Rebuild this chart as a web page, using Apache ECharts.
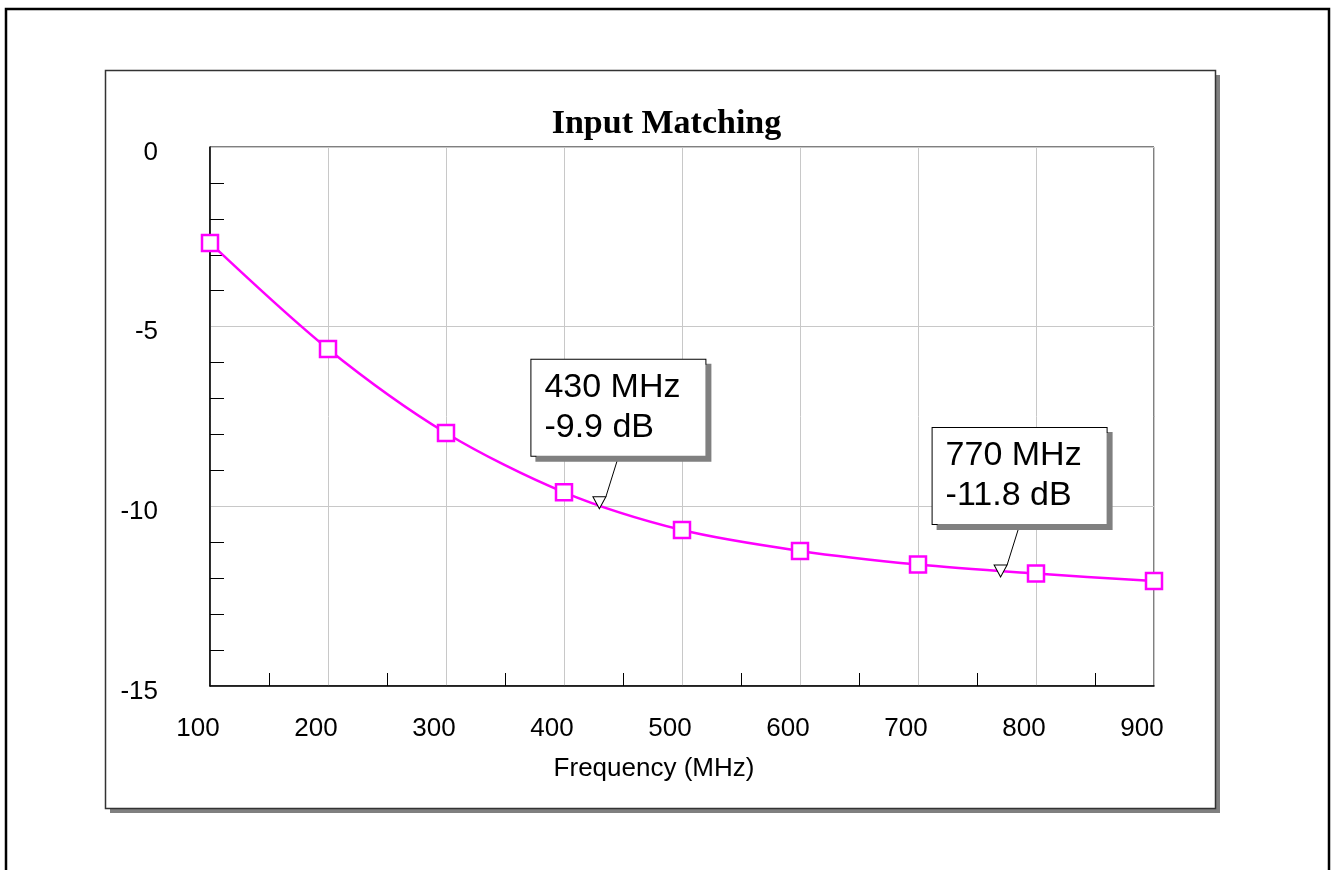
<!DOCTYPE html>
<html>
<head>
<meta charset="utf-8">
<script src="https://cdn.jsdelivr.net/npm/echarts@6/dist/echarts.min.js"></script>
<style>
html,body{margin:0;padding:0;background:#fff;}
#chart{width:1333px;height:870px;}
</style>
</head>
<body>
<div id="chart"></div>
<script>
// ---- data ----
const freqMHz = [100, 200, 300, 400, 500, 600, 700, 800, 900];
const s11dB = [-2.67, -5.62, -7.96, -9.61, -10.66, -11.24, -11.62, -11.87, -12.08];
const markerFreq = [430, 770];
const markerDB = [-9.9, -11.8];
const markerText = ['430 MHz\n-9.9 dB', '770 MHz\n-11.8 dB'];
const xMinorTicks = [150, 250, 350, 450, 550, 650, 750, 850];
const yMinorTicks = [-14, -13, -12, -11, -9, -8, -7, -6, -4, -3, -2, -1];
const titleText = 'Input Matching';
const xAxisName = 'Frequency (MHz)';

const FONT = "'Liberation Sans', Arial, sans-serif";
const chart = echarts.init(document.getElementById('chart'), null, {renderer: 'canvas'});

const option = {
  animation: false,
  backgroundColor: '#fff',
  title: {
    text: titleText,
    left: 'center',
    top: 102,
    textStyle: {fontFamily: "'Liberation Serif', 'Times New Roman', serif", fontWeight: 'bold', fontSize: 34, color: '#000'}
  },
  graphic: [
    {type: 'rect', z: -10, shape: {x: 6, y: 9, width: 1323, height: 900}, style: {fill: '#fff', stroke: '#000', lineWidth: 2.5}},
    {type: 'rect', z: -9, shape: {x: 110, y: 75, width: 1110, height: 738}, style: {fill: '#808080'}},
    {type: 'rect', z: -8, shape: {x: 105.5, y: 70.5, width: 1110, height: 738}, style: {fill: '#fff', stroke: '#333', lineWidth: 1.5}}
  ],
  grid: {
    left: 210, top: 147, width: 944, height: 539,
    show: true, borderColor: '#000', borderWidth: 1, backgroundColor: 'transparent'
  },
  xAxis: [
    {
      type: 'value', min: 100, max: 900, interval: 100,
      name: xAxisName, nameLocation: 'middle', nameGap: 70,
      nameTextStyle: {fontFamily: FONT, fontSize: 26, color: '#000', padding: [0, 56, 0, 0]},
      axisLine: {show: true, onZero: false, lineStyle: {color: '#000', width: 1.5}},
      axisTick: {show: false},
      axisLabel: {fontFamily: FONT, fontSize: 26, color: '#000', margin: 30, padding: [0, 24, 0, 0]},
      splitLine: {show: true, lineStyle: {color: '#c8c8c8', width: 1}}
    },
    {
      type: 'value', min: 100, max: 900, position: 'bottom',
      axisLine: {show: false, onZero: false},
      axisTick: {show: true, inside: true, length: 13, customValues: xMinorTicks, lineStyle: {color: '#000', width: 1}},
      axisLabel: {show: false},
      splitLine: {show: false}
    }
  ],
  yAxis: [
    {
      type: 'value', min: -15, max: 0, interval: 5,
      axisLine: {show: true, onZero: false, lineStyle: {color: '#000', width: 1.5}},
      axisTick: {show: false},
      axisLabel: {fontFamily: FONT, fontSize: 26, color: '#000', margin: 52, verticalAlign: 'top', lineHeight: 11},
      splitLine: {show: true, lineStyle: {color: '#c8c8c8', width: 1}}
    },
    {
      type: 'value', min: -15, max: 0, position: 'left',
      axisLine: {show: false, onZero: false},
      axisTick: {show: true, inside: true, length: 14, customValues: yMinorTicks, lineStyle: {color: '#000', width: 1}},
      axisLabel: {show: false},
      splitLine: {show: false}
    }
  ],
  series: [
    {
      type: 'line',
      data: freqMHz.map((f, i) => [f, s11dB[i]]),
      smooth: 0.3,
      symbol: 'rect',
      symbolSize: 16,
      lineStyle: {color: '#ff00ff', width: 2.5},
      itemStyle: {color: '#fff', borderColor: '#ff00ff', borderWidth: 2.5},
      emphasis: {disabled: true},
      z: 3
    },
    {
      type: 'scatter',
      data: markerFreq.map((f, i) => ({value: [f, markerDB[i]], label: {formatter: markerText[i]}})),
      symbol: 'triangle',
      symbolRotate: 180,
      symbolSize: [13, 12],
      itemStyle: {color: '#fff', borderColor: '#000', borderWidth: 1, opacity: 1},
      emphasis: {disabled: true},
      z: 4,
      label: {
        show: true,
        position: 'inside',
        fontFamily: FONT,
        fontSize: 34,
        lineHeight: 40,
        color: '#000',
        opacity: 1,
        align: 'left',
        width: 148,
        padding: [10, 13, 6, 13],
        backgroundColor: '#fff',
        borderColor: '#000',
        borderWidth: 1,
        shadowColor: '#808080',
        shadowOffsetX: 5,
        shadowOffsetY: 5,
        shadowBlur: 0
      },
      labelLine: {show: true, lineStyle: {color: '#000', width: 1, opacity: 1}},
      labelLayout: {dx: -68, dy: -95}
    }
  ]
};
chart.setOption(option);
</script>
</body>
</html>
